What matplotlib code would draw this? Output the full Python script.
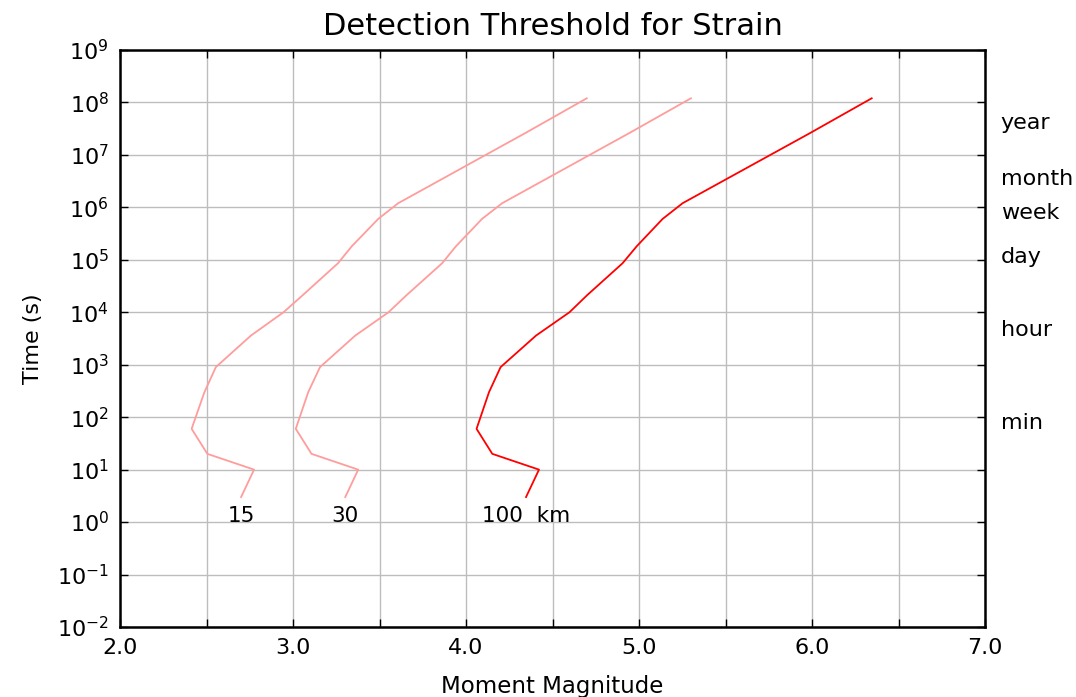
import numpy as np
import matplotlib
matplotlib.use("Agg")
from matplotlib import pyplot as plt
from matplotlib.ticker import MultipleLocator, LogLocator, NullLocator

# time (s) along each threshold curve
times = [3, 10, 20, 60, 300, 900, 3600, 1.0e4, 2.1e4, 8.6e4, 1.8e5, 6.0e5, 1.2e6, 2.6e7, 1.2e8]

# moment magnitude at each time, per station distance
mag_15 = [2.70, 2.775, 2.505, 2.414, 2.488, 2.554, 2.757, 2.945, 3.055, 3.26, 3.339, 3.492, 3.608, 4.342, 4.698]
mag_30 = [3.302, 3.377, 3.107, 3.016, 3.088, 3.156, 3.36, 3.552, 3.655, 3.862, 3.941, 4.092, 4.209, 4.943, 5.30]
mag_100 = [4.347, 4.422, 4.152, 4.061, 4.133, 4.20, 4.405, 4.598, 4.699, 4.905, 4.986, 5.136, 5.252, 5.988, 6.345]

curve_labels = ["15", "30", "100  km"]

period_names = ["year", "month", "week", "day", "hour", "min"]
period_secs = [3.156e7, 2.63e6, 6.048e5, 86400, 3600, 60]

fig = plt.figure(figsize=(10.76, 6.97), dpi=100)
ax = fig.add_axes([120 / 1076, 70 / 697, 865 / 1076, 577 / 697])

ax.set_yscale("log")
ax.set_xlim(2.0, 7.0)
ax.set_ylim(1e-2, 1e9)

ax.xaxis.set_major_locator(MultipleLocator(1.0))
ax.xaxis.set_minor_locator(MultipleLocator(0.5))
ax.xaxis.set_major_formatter(matplotlib.ticker.FormatStrFormatter("%.1f"))
ax.yaxis.set_major_locator(LogLocator(base=10, numticks=20))
ax.yaxis.set_minor_locator(NullLocator())

ax.grid(True, which="both", color="#bdbdbd", lw=1.0)
ax.set_axisbelow(True)
ax.tick_params(which="both", direction="in", top=True, right=True, labelsize=16, length=6, width=1, pad=8)

for s in ax.spines.values():
    s.set_linewidth(1.8)

ax.plot(mag_15, times, color="#ff9c9c", lw=1.3)
ax.plot(mag_30, times, color="#ff9c9c", lw=1.3)
ax.plot(mag_100, times, color="#ff0000", lw=1.3)

for mags, lab in zip([mag_15, mag_30, mag_100], curve_labels):
    ax.text(mags[0], 2.0, lab, ha="center", va="top", fontsize=15.5)

for name, sec in zip(period_names, period_secs):
    ax.text(7.09, sec, name, ha="left", va="baseline", fontsize=16, clip_on=False)

ax.set_xlabel("Moment Magnitude", fontsize=16.5, labelpad=12)
ax.set_ylabel("Time (s)", fontsize=16, labelpad=10)
ax.set_title("Detection Threshold for Strain", fontsize=22, pad=11)

fig.savefig("out.png", dpi=100)
